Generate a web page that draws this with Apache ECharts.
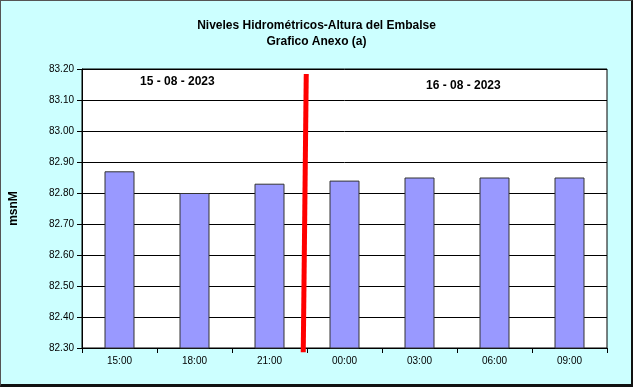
<!DOCTYPE html>
<html>
<head>
<meta charset="utf-8">
<script src="https://cdn.jsdelivr.net/npm/echarts@6/dist/echarts.min.js"></script>
<style>
html,body{margin:0;padding:0;background:#ccffff;}
#frame{position:absolute;left:0;top:0;width:630px;height:383px;border-left:1px solid #555;border-top:1px solid #555;border-right:2px solid #111;border-bottom:3px solid #111;background:#ccffff;}
#chart{position:absolute;left:-1px;top:-1px;width:633px;height:387px;}
</style>
</head>
<body>
<div id="frame"><div id="chart"></div></div>
<script>
const titleLines = ['Niveles Hidrométricos-Altura del Embalse', 'Grafico Anexo (a)'];
const categories = ['15:00', '18:00', '21:00', '00:00', '03:00', '06:00', '09:00'];
const levels = [82.87, 82.80, 82.83, 82.84, 82.85, 82.85, 82.85];
const yMin = 82.30, yMax = 83.20, yStep = 0.10;
const yAxisName = 'msnM';
const dateLabels = ['15 - 08 - 2023', '16 - 08 - 2023'];
// separator line between days: [categoryPosition, level]
const separator = [[2.99, 83.184], [2.95, 82.286]];

const chart = echarts.init(document.getElementById('chart'), null, {renderer: 'canvas'});
const font = 'Liberation Sans, Arial, sans-serif';
chart.setOption({
  backgroundColor: 'transparent',
  animation: false,
  title: [
    {text: titleLines.join('\n'), left: 'center', top: 13,
     textStyle: {fontFamily: font, fontSize: 12, fontWeight: 'bold', color: '#000', lineHeight: 16}},
    {text: dateLabels[0], left: 135, top: 71,
     textStyle: {fontFamily: font, fontSize: 12, fontWeight: 'bold', color: '#000'}},
    {text: dateLabels[1], left: 421, top: 75,
     textStyle: {fontFamily: font, fontSize: 12, fontWeight: 'bold', color: '#000'}}
  ],
  grid: {left: 82, right: 26, top: 69, bottom: 39, show: true, backgroundColor: '#fff', borderColor: '#000', borderWidth: 1},
  xAxis: [
    {type: 'category', data: categories, boundaryGap: true,
     axisLine: {lineStyle: {color: '#000', width: 1}},
     axisTick: {show: true, length: 5, inside: false, lineStyle: {color: '#000'}},
     axisLabel: {fontFamily: font, fontSize: 10, color: '#000', margin: 8}},
    {type: 'value', min: 0, max: categories.length, show: false}
  ],
  yAxis: {
    type: 'value', min: yMin, max: yMax, interval: yStep,
    name: yAxisName, nameLocation: 'middle', nameGap: 62, nameRotate: 90,
    nameTextStyle: {fontFamily: font, fontSize: 12, fontWeight: 'bold', color: '#000'},
    axisLine: {show: true, lineStyle: {color: '#000', width: 1}},
    axisTick: {show: true, length: 5, lineStyle: {color: '#000'}},
    axisLabel: {fontFamily: font, fontSize: 10, color: '#000', margin: 8, formatter: v => v.toFixed(2)},
    splitLine: {show: true, lineStyle: {color: '#000', width: 1}}
  },
  series: [
    {type: 'bar', data: levels, barWidth: '40%', xAxisIndex: 0,
     itemStyle: {color: '#9999ff', borderColor: '#333', borderWidth: 1}},
    {type: 'line', xAxisIndex: 1, data: separator, symbol: 'none', clip: false,
     lineStyle: {color: '#ff0000', width: 5}, z: 10}
  ]
});
</script>
</body>
</html>
